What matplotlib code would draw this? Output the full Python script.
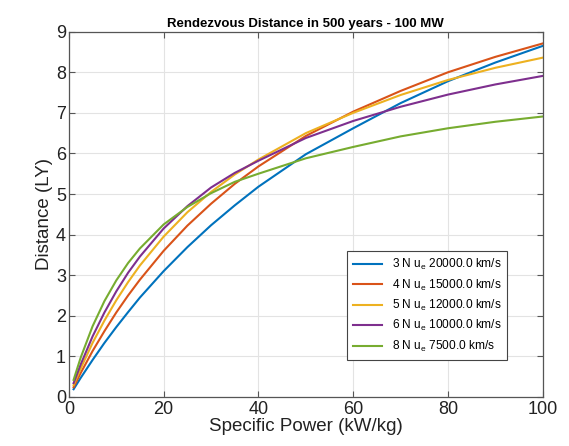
import numpy as np
import matplotlib
matplotlib.use("Agg")
import matplotlib.pyplot as plt

# Data
power = [1, 2.5, 5, 7.5, 10, 12.5, 15, 20, 25, 30, 35, 40, 50, 60, 70, 80, 90, 100]   # kW/kg

dist_3n = [0.19, 0.47, 0.91, 1.33, 1.72, 2.09, 2.45, 3.10, 3.69, 4.23, 4.72, 5.18, 5.98, 6.62, 7.24, 7.78, 8.24, 8.65]
dist_4n = [0.24, 0.59, 1.13, 1.62, 2.08, 2.50, 2.89, 3.60, 4.22, 4.76, 5.25, 5.68, 6.43, 7.03, 7.54, 8.00, 8.38, 8.71]
dist_5n = [0.29, 0.70, 1.33, 1.88, 2.38, 2.83, 3.24, 3.95, 4.55, 5.05, 5.48, 5.85, 6.50, 7.00, 7.44, 7.81, 8.11, 8.36]
dist_6n = [0.34, 0.80, 1.49, 2.08, 2.60, 3.06, 3.46, 4.15, 4.70, 5.16, 5.52, 5.82, 6.38, 6.80, 7.15, 7.45, 7.70, 7.91]
dist_8n = [0.42, 0.97, 1.74, 2.36, 2.87, 3.30, 3.66, 4.25, 4.68, 5.02, 5.30, 5.50, 5.88, 6.16, 6.42, 6.62, 6.78, 6.91]

labels = ["3 N u$_\\mathregular{e}$ 20000.0 km/s",
          "4 N u$_\\mathregular{e}$ 15000.0 km/s",
          "5 N u$_\\mathregular{e}$ 12000.0 km/s",
          "6 N u$_\\mathregular{e}$ 10000.0 km/s",
          "8 N u$_\\mathregular{e}$ 7500.0 km/s"]

colors = ["#0072BD", "#D95319", "#EDB120", "#7E2F8E", "#77AC30"]   # MATLAB default order

plt.rcParams['font.family'] = ['Liberation Sans', 'DejaVu Sans']
plt.rcParams['mathtext.fontset'] = 'custom'
plt.rcParams['mathtext.rm'] = 'Liberation Sans'

fig = plt.figure(figsize=(5.69, 4.46), dpi=100)
ax = fig.add_axes([0.121, 0.110, 0.833, 0.819])

for d, lab, c in zip([dist_3n, dist_4n, dist_5n, dist_6n, dist_8n], labels, colors):
    ax.plot(power, d, color=c, linewidth=1.5, label=lab)

ax.set_xlim(0, 100)
ax.set_ylim(0, 9)
ax.set_xticks([0, 20, 40, 60, 80, 100])
ax.set_yticks(range(10))
ax.grid(True, color="#e3e3e3", linewidth=0.8)
ax.set_axisbelow(True)

for s in ax.spines.values():
    s.set_color("#555555")
    s.set_linewidth(0.9)
ax.tick_params(direction="in", top=True, right=True, length=4, color="#555555",
               labelsize=13, labelcolor="#222222", pad=2)
ax.tick_params(axis="x", pad=3)

ax.set_xlabel("Specific Power (kW/kg)", fontsize=13.5, color="#222222", labelpad=0)
ax.set_ylabel("Distance (LY)", fontsize=13.5, color="#222222", labelpad=2)
ax.set_title("Rendezvous Distance in 500 years - 100 MW", fontsize=9.5,
             fontweight="bold", pad=3)

leg = ax.legend(loc="lower left", bbox_to_anchor=(0.575, 0.085), fontsize=8.6,
                fancybox=False, framealpha=1, edgecolor="#444444",
                handlelength=2.4, borderpad=0.5, labelspacing=0.45)
leg.get_frame().set_linewidth(0.8)

plt.savefig("out.png", dpi=100)
